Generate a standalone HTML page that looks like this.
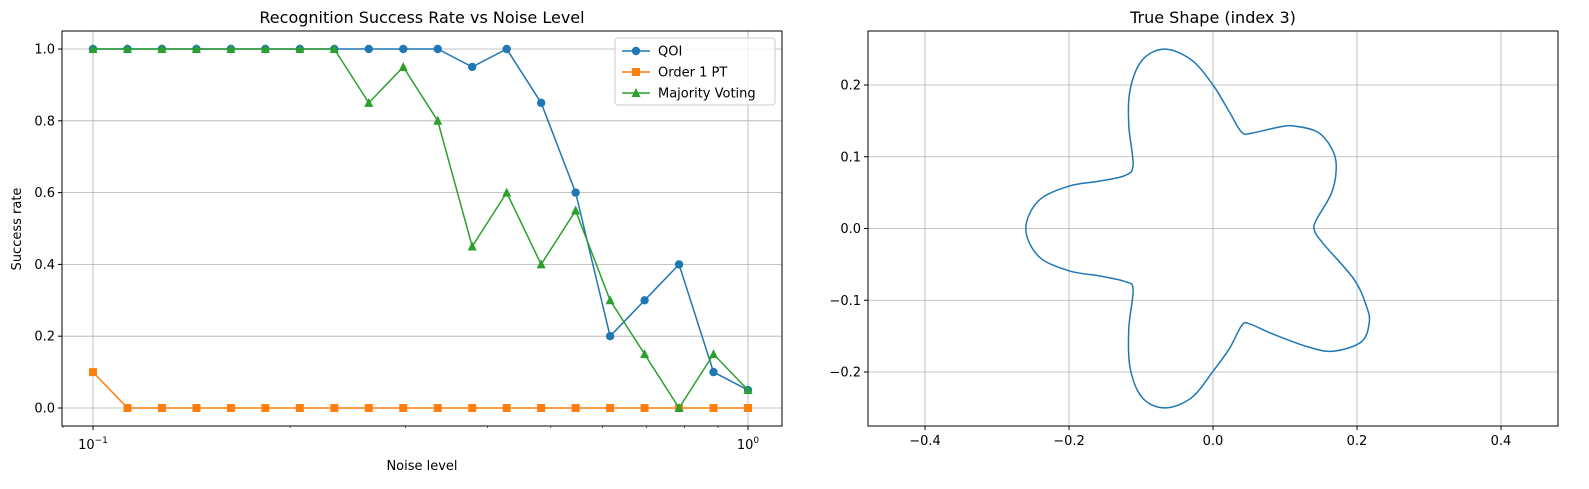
<!DOCTYPE html>
<html><head><meta charset="utf-8"><style>
body{margin:0;background:#fff;}
svg{display:block;font-family:"DejaVu Sans","Liberation Sans",sans-serif;}
</style></head><body>
<svg id="fig" width="1589" height="489"></svg>
<script>
const noiseLevels = Array.from({length:20},(_,i)=>Math.pow(10,-1+i/19));
const qoiValues = [1,1,1,1,1,1,1,1,1,1,1,0.95,1,0.85,0.6,0.2,0.3,0.4,0.1,0.05];
const order1Values = [0.1,0,0,0,0,0,0,0,0,0,0,0,0,0,0,0,0,0,0,0];
const majorityValues = [1,1,1,1,1,1,1,1,0.85,0.95,0.8,0.45,0.6,0.4,0.55,0.3,0.15,0,0.15,0.05];
const yTicksLeft = [0,0.2,0.4,0.6,0.8,1.0];
const shapeX = [-0.067,-0.030,0,0.023,0.040,0.054,0.090,0.111,0.146,0.167,0.171,0.164,0.143,0.141,0.153,0.196,0.213,0.217,0.206,0.167,0.132,0.083,0.051,0.040,0.023,0,-0.030,-0.067,-0.098,-0.115,-0.117,-0.111,-0.122,-0.158,-0.2,-0.242,-0.26,-0.242,-0.2,-0.158,-0.122,-0.111,-0.117,-0.115,-0.098];
const shapeY = [0.25,0.235,0.2,0.162,0.134,0.133,0.141,0.143,0.134,0.107,0.080,0.048,0.011,-0.003,-0.021,-0.071,-0.108,-0.131,-0.158,-0.171,-0.165,-0.147,-0.133,-0.135,-0.167,-0.199,-0.236,-0.25,-0.236,-0.195,-0.140,-0.085,-0.074,-0.066,-0.059,-0.039,0,0.039,0.059,0.066,0.074,0.089,0.144,0.194,0.235];
const xTicksRight = [-0.4,-0.2,0,0.2,0.4];
const yTicksRight = [-0.2,-0.1,0,0.1,0.2];

const NS='http://www.w3.org/2000/svg';
const svg=document.getElementById('fig');
function el(tag,attrs,parent){const e=document.createElementNS(NS,tag);for(const k in attrs)e.setAttribute(k,attrs[k]);(parent||svg).appendChild(e);return e;}
function txt(s,attrs,parent){const e=el('text',attrs,parent);e.textContent=s;return e;}

// ---- Left chart ----
const L={x0:62,x1:782,y0:31,y1:426};
const lx=v=>93+655*(Math.log10(v)+1);
const ly=v=>408-359*v;
const gL=el('g',{});


// grid
[0.1,1].forEach(v=>{el('line',{x1:lx(v),x2:lx(v),y1:L.y0,y2:L.y1,stroke:'#b0b0b0','stroke-width':0.8},gL);});
yTicksLeft.forEach(v=>{el('line',{x1:L.x0,x2:L.x1,y1:ly(v),y2:ly(v),stroke:'#b0b0b0','stroke-width':0.8},gL);});
// series
function series(vals,color,marker,name){
  const g=el('g',{},gL);
  
  
  el('polyline',{points:vals.map((v,i)=>lx(noiseLevels[i])+','+ly(v)).join(' '),fill:'none',stroke:color,'stroke-width':1.5},g);
  vals.forEach((v,i)=>drawMarker(g,lx(noiseLevels[i]),ly(v),color,marker));
}
function drawMarker(g,x,y,color,marker){
  if(marker==='o')el('circle',{cx:x,cy:y,r:4.2,fill:color},g);
  else if(marker==='s')el('rect',{x:x-4,y:y-4,width:8,height:8,fill:color},g);
  else el('polygon',{points:`${x},${y-5} ${x-4.5},${y+4} ${x+4.5},${y+4}`,fill:color},g);
}
series(qoiValues,'#1f77b4','o','qoi-series');
series(order1Values,'#ff7f0e','s','order1-pt-series');
series(majorityValues,'#2ca02c','^','majority-voting-series');
el('rect',{x:L.x0,y:L.y0,width:L.x1-L.x0,height:L.y1-L.y0,fill:'none',stroke:'#000','stroke-width':1},gL);
// ticks
yTicksLeft.forEach(v=>{el('line',{x1:L.x0-4,x2:L.x0,y1:ly(v),y2:ly(v),stroke:'#000'},gL);
  const t=txt(v.toFixed(1),{x:L.x0-7,y:ly(v)+4.5,'font-size':13,'text-anchor':'end'},gL);
  });
for(let d=-2;d<=0;d++)for(let m=1;m<10;m++){const v=m*Math.pow(10,d);const x=lx(v);
  if(x<L.x0-0.5||x>L.x1+0.5)continue;const major=m===1;
  el('line',{x1:x,x2:x,y1:L.y1,y2:L.y1+(major?4:2),stroke:'#000','stroke-width':major?1:0.6},gL);}
[['10','−1',0.1],['10','0',1]].forEach(([b,e,v])=>{const t=txt('',{x:lx(v),y:L.y1+23,'font-size':13,'text-anchor':'middle'},gL);
  
  const s1=el('tspan',{},t);s1.textContent=b;const s2=el('tspan',{dy:-6,'font-size':9},t);s2.textContent=e;});
let t=txt('Noise level',{x:(L.x0+L.x1)/2,y:470,'font-size':13,'text-anchor':'middle'},gL);

t=txt('Success rate',{x:21,y:229,'font-size':13,'text-anchor':'middle',transform:'rotate(-90 21 229)'},gL);

t=txt('Recognition Success Rate vs Noise Level',{x:(L.x0+L.x1)/2,y:23,'font-size':16,'text-anchor':'middle'},gL);

// legend
const lg=el('g',{},gL);


el('rect',{x:615,y:38,width:160,height:67,rx:3,fill:'#fff','fill-opacity':0.8,stroke:'#ccc'},lg);
[['QOI','#1f77b4','o'],['Order 1 PT','#ff7f0e','s'],['Majority Voting','#2ca02c','^']].forEach(([n,c,m],i)=>{
  const y=51+i*21;const g=el('g',{},lg);
  
  
  el('line',{x1:622,x2:650,y1:y,y2:y,stroke:c,'stroke-width':1.5},g);drawMarker(g,636,y,c,m);
  txt(n,{x:658,y:y+4.5,'font-size':13},g);});

// ---- Right chart ----
const R={x0:868,x1:1558,y0:31,y1:426};
const rx=v=>1213+720*v;
const ry=v=>228.5-717.5*v;
const gR=el('g',{});


xTicksRight.forEach(v=>el('line',{x1:rx(v),x2:rx(v),y1:R.y0,y2:R.y1,stroke:'#b0b0b0','stroke-width':0.8},gR));
yTicksRight.forEach(v=>el('line',{x1:R.x0,x2:R.x1,y1:ry(v),y2:ry(v),stroke:'#b0b0b0','stroke-width':0.8},gR));
// smooth closed curve (Catmull-Rom)
const P=shapeX.map((x,i)=>[rx(x),ry(shapeY[i])]);const n=P.length;
let d=`M${P[0][0]},${P[0][1]}`;
for(let i=0;i<n;i++){const p0=P[(i-1+n)%n],p1=P[i],p2=P[(i+1)%n],p3=P[(i+2)%n];
  d+=` C${p1[0]+(p2[0]-p0[0])/6},${p1[1]+(p2[1]-p0[1])/6} ${p2[0]-(p3[0]-p1[0])/6},${p2[1]-(p3[1]-p1[1])/6} ${p2[0]},${p2[1]}`;}
const sp=el('path',{d:d+'Z',fill:'none',stroke:'#1f77b4','stroke-width':1.5},gR);


el('rect',{x:R.x0,y:R.y0,width:R.x1-R.x0,height:R.y1-R.y0,fill:'none',stroke:'#000'},gR);
xTicksRight.forEach(v=>{el('line',{x1:rx(v),x2:rx(v),y1:R.y1,y2:R.y1+4,stroke:'#000'},gR);
  const t=txt((v<0?'−':'')+Math.abs(v).toFixed(1),{x:rx(v),y:R.y1+19,'font-size':13,'text-anchor':'middle'},gR);
  });
yTicksRight.forEach(v=>{el('line',{x1:R.x0-4,x2:R.x0,y1:ry(v),y2:ry(v),stroke:'#000'},gR);
  const t=txt((v<0?'−':'')+Math.abs(v).toFixed(1),{x:R.x0-7,y:ry(v)+4.5,'font-size':13,'text-anchor':'end'},gR);
  });
t=txt('True Shape (index 3)',{x:(R.x0+R.x1)/2,y:23,'font-size':16,'text-anchor':'middle'},gR);

</script>
</body></html>
